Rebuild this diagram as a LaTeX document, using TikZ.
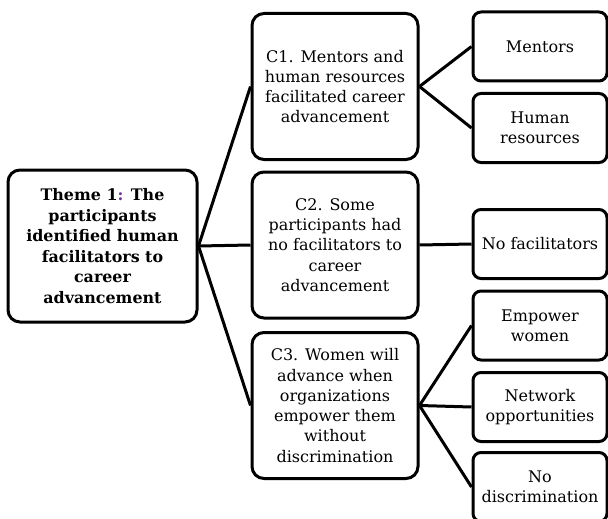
\documentclass[tikz,border=0pt]{standalone}
\usepackage{fontspec}
\setmainfont{DejaVu Serif}
\usepackage{tikz}
\usetikzlibrary{positioning}
\definecolor{colonpurple}{HTML}{7030A0}

\begin{document}
\begin{tikzpicture}[
  x=1pt, y=-1pt,
  theme/.style={rectangle, draw, line width=3pt, rounded corners=12pt, minimum width=189pt, minimum height=152pt, font=\fontsize{15.9}{20.5}\selectfont\bfseries, align=center, inner sep=2pt},
  cat/.style={rectangle, draw, line width=3pt, rounded corners=12pt, minimum width=166pt, minimum height=146pt, font=\fontsize{16}{20.3}\selectfont, align=center, inner sep=2pt},
  code/.style={rectangle, draw, line width=3pt, rounded corners=8pt, minimum width=134pt, minimum height=69pt, font=\fontsize{16}{20.3}\selectfont, align=center, inner sep=2pt},
  link/.style={line width=3pt}
]
  \useasboundingbox (0,0) rectangle (608,519);

  \node[theme] (theme) at (102.5,246) {Theme 1\textcolor{colonpurple}{:} The\\participants\\identified human\\facilitators to\\career\\advancement};

  \node[cat] (cone) at (335,86.5) {C1. Mentors and\\human resources\\facilitated career\\advancement};
  \node[cat] (ctwo) at (335,245) {C2. Some\\participants had\\no facilitators to\\career\\advancement};
  \node[cat] (cthree) at (335,405.5) {C3. Women will\\advance when\\organizations\\empower them\\without\\discrimination};

  \node[code] (mentors) at (540,46.5) {Mentors};
  \node[code] (hr) at (540,128) {Human\\resources};
  \node[code] (nofac) at (540,244) {No facilitators};
  \node[code] (empower) at (540,325.5) {Empower\\women};
  \node[code] (network) at (540,407) {Network\\opportunities};
  \node[code] (nodisc) at (540,487) {No\\discrimination};

  % theme to categories
  \draw[link] (theme.east) -- (cone.west);
  \draw[link] (theme.east) -- (ctwo.west);
  \draw[link] (theme.east) -- (cthree.west);

  % categories to codes
  \draw[link] (cone.east) -- (mentors.west);
  \draw[link] (cone.east) -- (hr.west);
  \draw[link] (ctwo.east) -- (nofac.west);
  \draw[link] (cthree.east) -- (empower.west);
  \draw[link] (cthree.east) -- (network.west);
  \draw[link] (cthree.east) -- (nodisc.west);
\end{tikzpicture}
\end{document}
